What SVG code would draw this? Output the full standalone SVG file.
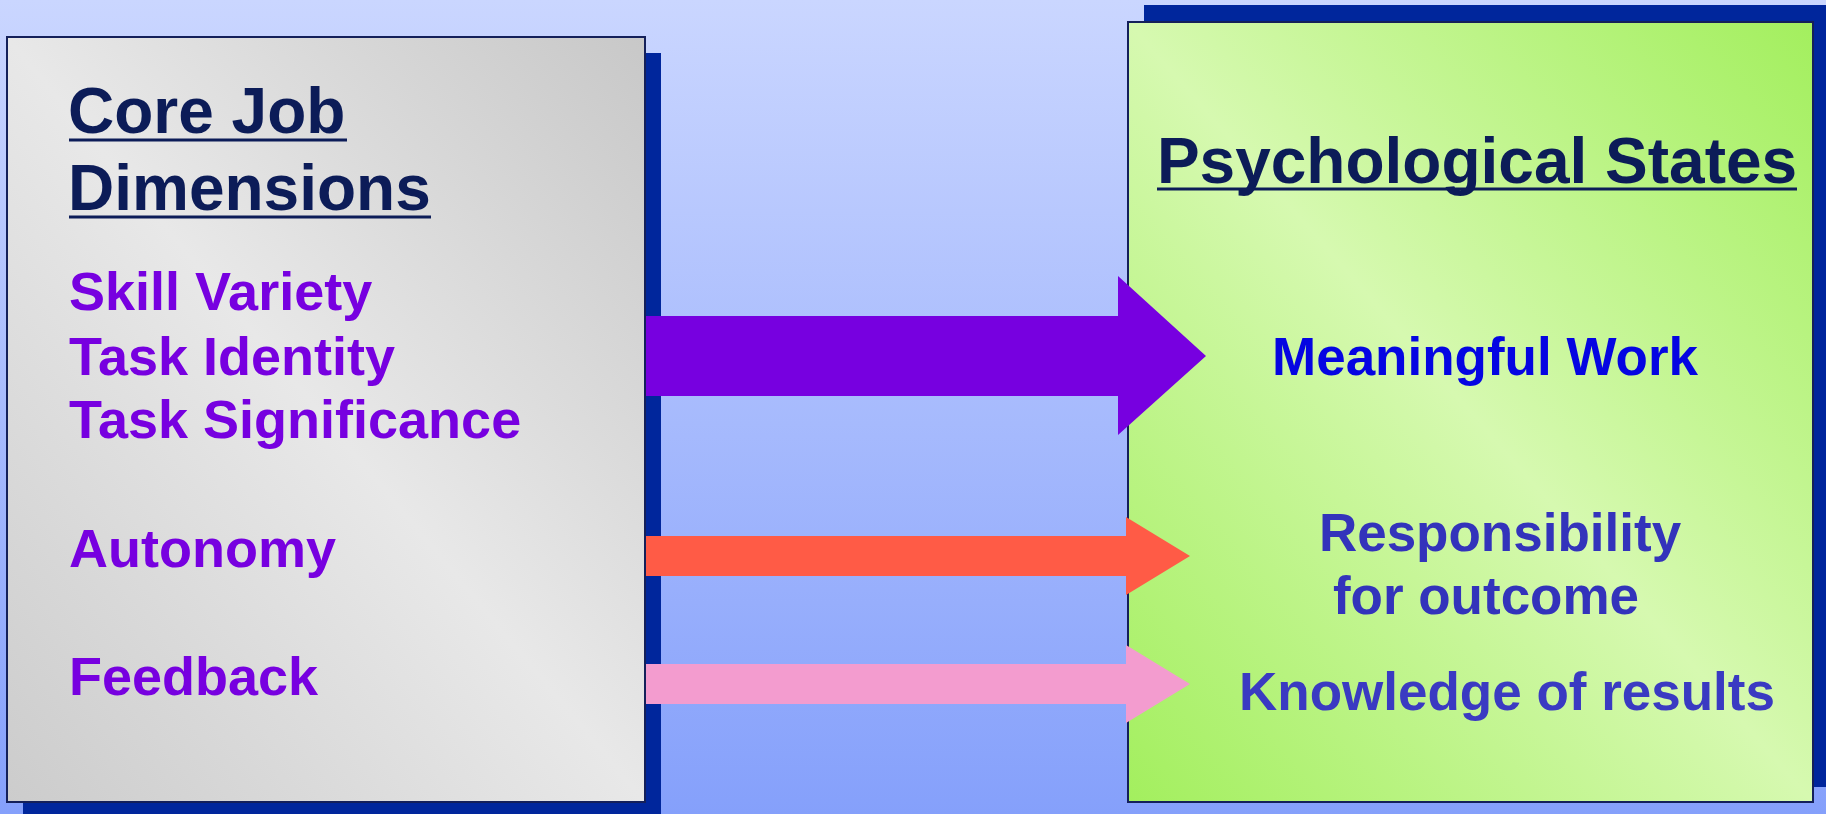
<svg xmlns="http://www.w3.org/2000/svg" width="1826" height="814" viewBox="0 0 1826 814">
  <defs>
    <linearGradient id="bg" x1="0" y1="0" x2="0" y2="1">
      <stop offset="0" stop-color="#cad6ff"/>
      <stop offset="1" stop-color="#85a0fb"/>
    </linearGradient>
    <linearGradient id="grayFill" x1="1" y1="0" x2="0" y2="1">
      <stop offset="0" stop-color="#c8c8c8"/>
      <stop offset="0.5" stop-color="#e8e8e8"/>
      <stop offset="1" stop-color="#cccccc"/>
    </linearGradient>
    <linearGradient id="greenFill" x1="1" y1="0" x2="0" y2="1">
      <stop offset="0" stop-color="#a3ef5e"/>
      <stop offset="0.5" stop-color="#d6f9b0"/>
      <stop offset="1" stop-color="#a3ef5e"/>
    </linearGradient>
  </defs>
  <style>
    .shadow { fill: #00269c; }
    .box { stroke: #14205a; stroke-width: 2; }
    text { font-family: "Liberation Sans", Arial, sans-serif; font-weight: bold; }
    .title { font-size: 64px; fill: #0c1c58; }
    .rule { stroke: #0c1c58; stroke-width: 3; }
    .item { font-size: 54px; fill: #7700e0; }
    .state { font-size: 53px; fill: #3333bb; text-anchor: middle; }
  </style>

  <rect width="1826" height="814" fill="url(#bg)"/>

  <!-- Core job dimensions box -->
  <g id="core-job-dimensions">
    <rect class="shadow" x="23" y="53" width="638" height="765"/>
    <rect class="box" x="7" y="37" width="638" height="765" fill="url(#grayFill)"/>
    <text class="title" x="68" y="133">Core Job</text>
    <line class="rule" x1="69" y1="140" x2="347" y2="140"/>
    <text class="title" x="68" y="210">Dimensions</text>
    <line class="rule" x1="69" y1="217" x2="431" y2="217"/>
    <text class="item" x="69" y="310">Skill Variety</text>
    <text class="item" x="69" y="375">Task Identity</text>
    <text class="item" x="69" y="438">Task Significance</text>
    <text class="item" x="69" y="567">Autonomy</text>
    <text class="item" x="69" y="695">Feedback</text>
  </g>

  <!-- Psychological states box -->
  <g id="psychological-states">
    <rect class="shadow" x="1144" y="5" width="690" height="782"/>
    <rect class="box" x="1128" y="22" width="685" height="780" fill="url(#greenFill)"/>
    <text class="title" x="1477" y="183" text-anchor="middle">Psychological States</text>
    <line class="rule" x1="1157" y1="189" x2="1797" y2="189"/>
    <text class="state" x="1485" y="375" style="fill:#0505e2">Meaningful Work</text>
    <text class="state" x="1500" y="551">Responsibility</text>
    <text class="state" x="1486" y="614">for outcome</text>
    <text class="state" x="1507" y="710" style="fill:#3a3ac2">Knowledge of results</text>
  </g>

  <!-- Connectors -->
  <g id="connectors">
    <polygon fill="#7700e0" points="646,316 1118,316 1118,276 1206,356 1118,435 1118,396 646,396"/>
    <polygon fill="#ff5b46" points="646,536 1126,536 1126,517 1190,556 1126,595 1126,576 646,576"/>
    <polygon fill="#f39ccf" points="646,664 1126,664 1126,645 1190,684 1126,723 1126,704 646,704"/>
  </g>
</svg>
